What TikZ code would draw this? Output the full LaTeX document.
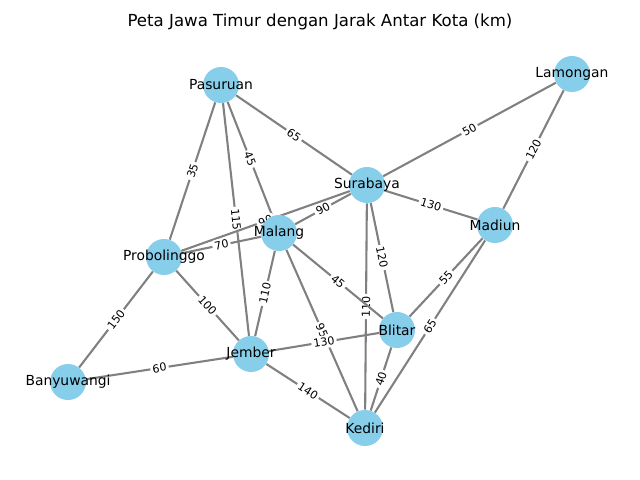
\documentclass[tikz,border=0pt]{standalone}
\usepackage{fontspec}
\setmainfont{DejaVu Sans}
\usetikzlibrary{backgrounds}
\definecolor{skyblue}{RGB}{135,206,235}
\definecolor{roadgray}{RGB}{128,128,128}
\tikzset{
  citytext/.style={inner sep=0pt, font=\fontsize{9.85}{12}\selectfont},
  city/.style={circle, fill=skyblue, minimum size=0.9cm, inner sep=0pt, label={[citytext]center:#1}},
  road/.style={draw=roadgray, line width=1.48pt},
  dist/.style={midway, sloped, fill=white, rounded corners=2pt, inner sep=1.5pt, font=\fontsize{7.9}{9}\selectfont}
}

\begin{document}
\begin{tikzpicture}[x=0.025cm, y=-0.025cm]
\useasboundingbox (0,0) rectangle (640,480);

\node (title) at (320,22) {\fontsize{11.8}{14}\selectfont Peta Jawa Timur dengan Jarak Antar Kota (km)};

% kota
\node[city=Pasuruan] (pasuruan) at (221,85) {};
\node[city=Lamongan] (lamongan) at (572,74) {};
\node[city=Surabaya] (surabaya) at (367,185) {};
\node[city=Madiun] (madiun) at (495,225) {};
\node[city=Malang] (malang) at (279,233) {};
\node[city=Probolinggo] (probolinggo) at (164,257) {};
\node[city=Blitar] (blitar) at (397,330) {};
\node[city=Banyuwangi] (banyuwangi) at (68,382) {};
\node[city=Jember] (jember) at (251,354) {};
\node[city=Kediri] (kediri) at (365,428) {};

% jalan dan jarak
\begin{scope}[on background layer]
\draw[road] (pasuruan) -- node[dist] {35} (probolinggo);
\draw[road] (pasuruan) -- node[dist] {45} (malang);
\draw[road] (pasuruan) -- node[dist] {65} (surabaya);
\draw[road] (pasuruan) -- node[dist] {115} (jember);
\draw[road] (lamongan) -- node[dist] {50} (surabaya);
\draw[road] (lamongan) -- node[dist] {120} (madiun);
\draw[road] (surabaya) -- node[dist] {130} (madiun);
\draw[road] (surabaya) -- node[dist] {90} (malang);
\draw[road] (probolinggo) -- node[dist] {90} (surabaya);
\draw[road] (surabaya) -- node[dist] {120} (blitar);
\draw[road] (surabaya) -- node[dist] {110} (kediri);
\draw[road] (probolinggo) -- node[dist] {70} (malang);
\draw[road] (malang) -- node[dist] {45} (blitar);
\draw[road] (malang) -- node[dist] {110} (jember);
\draw[road] (malang) -- node[dist] {95} (kediri);
\draw[road] (probolinggo) -- node[dist] {100} (jember);
\draw[road] (probolinggo) -- node[dist] {150} (banyuwangi);
\draw[road] (banyuwangi) -- node[dist] {60} (jember);
\draw[road] (jember) -- node[dist] {130} (blitar);
\draw[road] (jember) -- node[dist] {140} (kediri);
\draw[road] (blitar) -- node[dist] {55} (madiun);
\draw[road] (blitar) -- node[dist] {40} (kediri);
\draw[road] (madiun) -- node[dist] {65} (kediri);
\end{scope}
\end{tikzpicture}
\end{document}
